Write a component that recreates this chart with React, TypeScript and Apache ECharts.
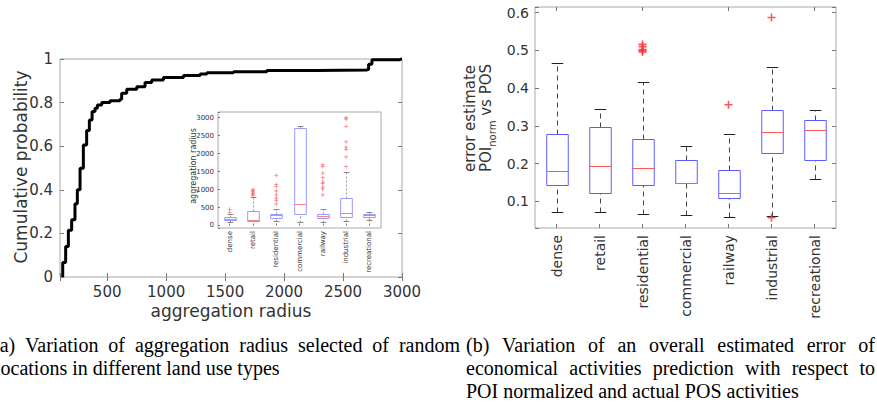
import React, { useEffect, useRef } from 'react';
import * as echarts from 'echarts';

// ---------- data ----------
// (a) CDF of aggregation radius
const CDF_X = [123, 123, 148, 171, 199, 227, 247, 270, 298, 326, 349, 372, 397, 417, 454, 524, 609, 623, 666, 751, 821, 878, 977, 1147, 1288, 1345, 1571, 1854, 2278, 2703, 2717, 2745, 2985, 3000];
const CDF_P = [0, 0.067, 0.14, 0.214, 0.263, 0.336, 0.4, 0.499, 0.606, 0.672, 0.72, 0.759, 0.774, 0.789, 0.8, 0.808, 0.815, 0.843, 0.861, 0.873, 0.892, 0.904, 0.915, 0.924, 0.931, 0.937, 0.942, 0.947, 0.95, 0.953, 0.976, 0.996, 1.0, 1.0];
const CDF_X_TICKS = [500, 1000, 1500, 2000, 2500, 3000];

const CATEGORIES = ['dense', 'retail', 'residential', 'commercial', 'railway', 'industrial', 'recreational'];

// inset: aggregation radius per land use
const INSET_LOW = [102, 111, 111, 102, 102, 130, 148];
const INSET_Q1 = [148, 130, 204, 306, 213, 241, 241];
const INSET_MED = [194, 148, 287, 611, 259, 361, 287];
const INSET_Q3 = [241, 407, 333, 2713, 333, 778, 324];
const INSET_HIGH = [315, 796, 472, 2778, 472, 1491, 380];
const INSET_OUT_DENSE = [360, 450];
const INSET_OUT_RETAIL = [830, 870, 900, 940, 970, 1000];
const INSET_OUT_RESIDENTIAL = [600, 700, 760, 850, 960, 1090, 1140, 1390];
const INSET_OUT_RAILWAY = [850, 1010, 1070, 1170, 1210, 1330, 1460, 1640, 1690];
const INSET_OUT_INDUSTRIAL = [1640, 1910, 2120, 2180, 2330, 2760, 2960, 3000];
const INSET_OUT_RECREATIONAL = [150];

// (b) error estimate per land use
const ERR_LOW = [0.071, 0.071, 0.065, 0.064, 0.057, 0.06, 0.158];
const ERR_Q1 = [0.142, 0.123, 0.144, 0.147, 0.108, 0.229, 0.208];
const ERR_MED = [0.181, 0.193, 0.189, 0.149, 0.123, 0.283, 0.29];
const ERR_Q3 = [0.277, 0.298, 0.266, 0.208, 0.182, 0.343, 0.316];
const ERR_HIGH = [0.467, 0.344, 0.415, 0.247, 0.278, 0.456, 0.343];
const ERR_OUT_RESIDENTIAL = [0.496, 0.5, 0.502, 0.51, 0.516];
const ERR_OUT_RAILWAY = [0.356];
const ERR_OUT_INDUSTRIAL = [0.587, 0.056];

// captions
const CAP_A_1 = '(a) Variation of aggregation radius selected of random';
const CAP_A_2 = 'locations in different land use types';
const CAP_B_1 = '(b) Variation of an overall estimated error of';
const CAP_B_2 = 'economical activities prediction with respect to';
const CAP_B_3 = 'POI normalized and actual POS activities';

// ---------- helpers ----------
const SANS = '"DejaVu Sans", sans-serif';
const SERIF = '"Liberation Serif", "Times New Roman", serif';
const TXT = '#333';
const FRAME = '#a8a8a8';
const TICK = '#777';
const PLUS = 'path://M4,0h2v4h4v2h-4v4h-2v-4h-4v-2h4z';

let ctx: CanvasRenderingContext2D | null = null;
function measure(text: string, font: string): number {
  if (!ctx) ctx = document.createElement('canvas').getContext('2d');
  ctx!.font = font;
  return ctx!.measureText(text).width;
}

function justify(line: string, x0: number, x1: number, y: number, size: number) {
  const words = line.split(' ');
  const font = `${size}px ${SERIF}`;
  const widths = words.map((w) => measure(w, font));
  const total = widths.reduce((a, b) => a + b, 0);
  const gap = (x1 - x0 - total) / (words.length - 1);
  let x = x0;
  return words.map((w, i) => {
    const el = {
      type: 'text',
      x,
      y,
      style: { text: w, fontFamily: SERIF, fontSize: size, fill: '#000', textAlign: 'left', textVerticalAlign: 'middle' },
    };
    x += widths[i] + gap;
    return el;
  });
}

function plainLine(line: string, x: number, y: number, size: number) {
  return {
    type: 'text',
    x,
    y,
    style: { text: line, fontFamily: SERIF, fontSize: size, fill: '#000', textAlign: 'left', textVerticalAlign: 'middle' },
  };
}

function boxData(low: number[], q1: number[], med: number[], q3: number[], high: number[]) {
  return low.map((_, i) => [i, low[i], q1[i], med[i], q3[i], high[i]]);
}

function outliers(groups: [number, number[]][]) {
  const out: number[][] = [];
  groups.forEach(([c, vals]) => vals.forEach((v) => out.push([c, v])));
  return out;
}

function makeBoxRender(opts: { box: string; med: string; whisk: string; cap: string; dash: number[]; boxW: number; capW: number }) {
  return (params: any, api: any) => {
    const i = api.value(0);
    const low = api.coord([i, api.value(1)]);
    const q1 = api.coord([i, api.value(2)]);
    const med = api.coord([i, api.value(3)]);
    const q3 = api.coord([i, api.value(4)]);
    const high = api.coord([i, api.value(5)]);
    const band = api.size([1, 0])[0];
    const bw = band * opts.boxW;
    const cw = band * opts.capW;
    const cx = Math.round(q1[0]) + 0.5;
    const r = (v: number) => Math.round(v) + 0.5;
    return {
      type: 'group',
      children: [
        { type: 'line', shape: { x1: cx, y1: r(low[1]), x2: cx, y2: r(q1[1]) }, style: { stroke: opts.whisk, lineWidth: 1, lineDash: opts.dash } },
        { type: 'line', shape: { x1: cx, y1: r(q3[1]), x2: cx, y2: r(high[1]) }, style: { stroke: opts.whisk, lineWidth: 1, lineDash: opts.dash } },
        { type: 'line', shape: { x1: cx - cw / 2, y1: r(low[1]), x2: cx + cw / 2, y2: r(low[1]) }, style: { stroke: opts.cap, lineWidth: 1 } },
        { type: 'line', shape: { x1: cx - cw / 2, y1: r(high[1]), x2: cx + cw / 2, y2: r(high[1]) }, style: { stroke: opts.cap, lineWidth: 1 } },
        { type: 'rect', shape: { x: cx - bw / 2, y: r(q3[1]), width: bw, height: r(q1[1]) - r(q3[1]) }, style: { fill: 'rgba(255,255,255,0)', stroke: opts.box, lineWidth: 1 } },
        { type: 'line', shape: { x1: cx - bw / 2, y1: r(med[1]), x2: cx + bw / 2, y2: r(med[1]) }, style: { stroke: opts.med, lineWidth: 1 } },
      ],
    };
  };
}

function buildOption(): any {
  const tickStyle = { show: true, inside: true, length: 4, lineStyle: { color: TICK, width: 1 } };
  const noLine = { show: false };

  // right y-label pieces
  const f15 = `15px ${SANS}`;
  const f11 = `10px ${SANS}`;
  const wPOI = measure('POI', f15);
  const wNorm = measure('norm', f11);

  const graphic: any[] = [
    // left axis names
    {
      type: 'text', x: 21, y: 167, rotation: Math.PI / 2,
      style: { text: 'Cumulative probability', fontFamily: SANS, fontSize: 17, fill: TXT, textAlign: 'center', textVerticalAlign: 'middle' },
    },
    {
      type: 'text', x: 231, y: 311,
      style: { text: 'aggregation radius', fontFamily: SANS, fontSize: 17, fill: TXT, textAlign: 'center', textVerticalAlign: 'middle' },
    },
    {
      type: 'text', x: 193, y: 166, rotation: Math.PI / 2,
      style: { text: 'aggregation radius', fontFamily: SANS, fontSize: 8, fill: TXT, textAlign: 'center', textVerticalAlign: 'middle' },
    },
    // right y-axis label (two lines, with subscript)
    {
      type: 'group', x: 470, y: 172, rotation: Math.PI / 2,
      children: [
        { type: 'text', x: 0, y: 0, style: { text: 'error estimate', font: f15, fill: TXT, textAlign: 'left', textVerticalAlign: 'middle' } },
        { type: 'text', x: 0, y: 16, style: { text: 'POI', font: f15, fill: TXT, textAlign: 'left', textVerticalAlign: 'middle' } },
        { type: 'text', x: wPOI, y: 22, style: { text: 'norm', font: f11, fill: TXT, textAlign: 'left', textVerticalAlign: 'middle' } },
        { type: 'text', x: wPOI + wNorm, y: 16, style: { text: ' vs POS', font: f15, fill: TXT, textAlign: 'left', textVerticalAlign: 'middle' } },
      ],
    },
    // captions
    ...justify(CAP_A_1, -7, 460, 345, 20),
    plainLine(CAP_A_2, -5, 368, 20),
    ...justify(CAP_B_1, 466, 875, 345, 20),
    ...justify(CAP_B_2, 466, 875, 368, 20),
    plainLine(CAP_B_3, 466, 391, 20),
  ];

  return {
    animation: false,
    backgroundColor: '#fff',
    grid: [
      { left: 60, top: 59, width: 342, height: 218, show: true, borderColor: FRAME, borderWidth: 1, backgroundColor: 'transparent' },
      { left: 218, top: 112, width: 163, height: 116, show: true, borderColor: FRAME, borderWidth: 1, backgroundColor: '#fff' },
      { left: 535, top: 7, width: 301, height: 221, show: true, borderColor: FRAME, borderWidth: 1, backgroundColor: 'transparent' },
    ],
    xAxis: [
      {
        type: 'value', gridIndex: 0, min: 100, max: 3000, position: 'bottom',
        axisLine: noLine, axisTick: tickStyle, splitLine: { show: false },
        axisLabel: {
          color: TXT, fontFamily: SANS, fontSize: 15, margin: 7,
          formatter: (v: number) => (CDF_X_TICKS.indexOf(v) >= 0 ? String(v) : ''),
        },
      },
      {
        type: 'value', gridIndex: 0, min: 100, max: 3000, position: 'top',
        axisLine: noLine, axisTick: tickStyle, splitLine: { show: false }, axisLabel: { show: false },
      },
      {
        type: 'category', gridIndex: 1, data: CATEGORIES, position: 'bottom',
        axisLine: noLine, axisTick: { ...tickStyle, length: 2, alignWithLabel: true }, splitLine: { show: false },
        axisLabel: { color: TXT, fontFamily: SANS, fontSize: 7, rotate: 90, margin: 3, interval: 0 },
      },
      {
        type: 'category', gridIndex: 2, data: CATEGORIES, position: 'bottom',
        axisLine: noLine, axisTick: { ...tickStyle, alignWithLabel: true }, splitLine: { show: false },
        axisLabel: { color: TXT, fontFamily: SANS, fontSize: 14, rotate: 90, margin: 7, interval: 0 },
      },
      {
        type: 'category', gridIndex: 2, data: CATEGORIES, position: 'top',
        axisLine: noLine, axisTick: { ...tickStyle, alignWithLabel: true }, splitLine: { show: false }, axisLabel: { show: false },
      },
    ],
    yAxis: [
      {
        type: 'value', gridIndex: 0, min: 0, max: 1, interval: 0.2, position: 'left',
        axisLine: noLine, axisTick: tickStyle, splitLine: { show: false },
        axisLabel: {
          color: TXT, fontFamily: SANS, fontSize: 15, margin: 7,
          formatter: (v: number) => (v === 0 ? '0' : v === 1 ? '1' : v.toFixed(1)),
        },
      },
      {
        type: 'value', gridIndex: 0, min: 0, max: 1, interval: 0.2, position: 'right',
        axisLine: noLine, axisTick: tickStyle, splitLine: { show: false }, axisLabel: { show: false },
      },
      {
        type: 'value', gridIndex: 1, min: -70, max: 3160, position: 'left',
        axisLine: noLine, axisTick: { ...tickStyle, length: 2 }, splitLine: { show: false },
        axisLabel: {
          color: TXT, fontFamily: SANS, fontSize: 7, margin: 4,
          formatter: (v: number) => (v >= 0 && v % 500 === 0 ? String(v) : ''),
        },
      },
      {
        type: 'value', gridIndex: 2, min: 0.029, max: 0.615, position: 'left',
        axisLine: noLine, axisTick: tickStyle, splitLine: { show: false },
        axisLabel: {
          color: TXT, fontFamily: SANS, fontSize: 14, margin: 6,
          formatter: (v: number) => {
            const r = Math.round(v * 10) / 10;
            return Math.abs(v - r) < 1e-6 && r >= 0.1 ? r.toFixed(1) : '';
          },
        },
      },
      {
        type: 'value', gridIndex: 2, min: 0.029, max: 0.615, position: 'right',
        axisLine: noLine, axisTick: tickStyle, splitLine: { show: false }, axisLabel: { show: false },
      },
    ],
    series: [
      {
        type: 'line', xAxisIndex: 0, yAxisIndex: 0, step: 'end', showSymbol: false,
        data: CDF_X.map((x, i) => [x, CDF_P[i]]),
        lineStyle: { color: '#000', width: 3 }, z: 3,
      },
      {
        type: 'custom', xAxisIndex: 2, yAxisIndex: 2,
        data: boxData(INSET_LOW, INSET_Q1, INSET_MED, INSET_Q3, INSET_HIGH),
        encode: { x: 0, y: [1, 2, 3, 4, 5] },
        renderItem: makeBoxRender({ box: '#9a9aff', med: '#ff8080', whisk: '#999', cap: '#888', dash: [2, 2], boxW: 0.5, capW: 0.25 }),
        z: 5,
      },
      {
        type: 'scatter', xAxisIndex: 2, yAxisIndex: 2, symbol: PLUS, symbolSize: 4,
        itemStyle: { color: '#ff6060' },
        data: outliers([
          [0, INSET_OUT_DENSE], [1, INSET_OUT_RETAIL], [2, INSET_OUT_RESIDENTIAL],
          [4, INSET_OUT_RAILWAY], [5, INSET_OUT_INDUSTRIAL], [6, INSET_OUT_RECREATIONAL],
        ]),
        z: 6,
      },
      {
        type: 'custom', xAxisIndex: 3, yAxisIndex: 3,
        data: boxData(ERR_LOW, ERR_Q1, ERR_MED, ERR_Q3, ERR_HIGH),
        encode: { x: 0, y: [1, 2, 3, 4, 5] },
        renderItem: makeBoxRender({ box: '#5c5cff', med: '#ff5a5a', whisk: '#444', cap: '#222', dash: [5, 4], boxW: 0.5, capW: 0.27 }),
        z: 5,
      },
      {
        type: 'scatter', xAxisIndex: 3, yAxisIndex: 3, symbol: PLUS, symbolSize: 8,
        itemStyle: { color: '#ff3030' },
        data: outliers([[2, ERR_OUT_RESIDENTIAL], [4, ERR_OUT_RAILWAY], [5, ERR_OUT_INDUSTRIAL]]),
        z: 6,
      },
    ],
    graphic,
  };
}

export default function App() {
  const ref = useRef<HTMLDivElement>(null);
  useEffect(() => {
    document.body.style.margin = '0';
    const chart = echarts.init(ref.current!, null, { renderer: 'svg' });
    chart.setOption(buildOption());
    return () => chart.dispose();
  }, []);
  return (
    <div
      ref={ref}
      style={{ position: 'fixed', left: 0, top: 0, width: 877, height: 408, background: '#fff' }}
    />
  );
}
